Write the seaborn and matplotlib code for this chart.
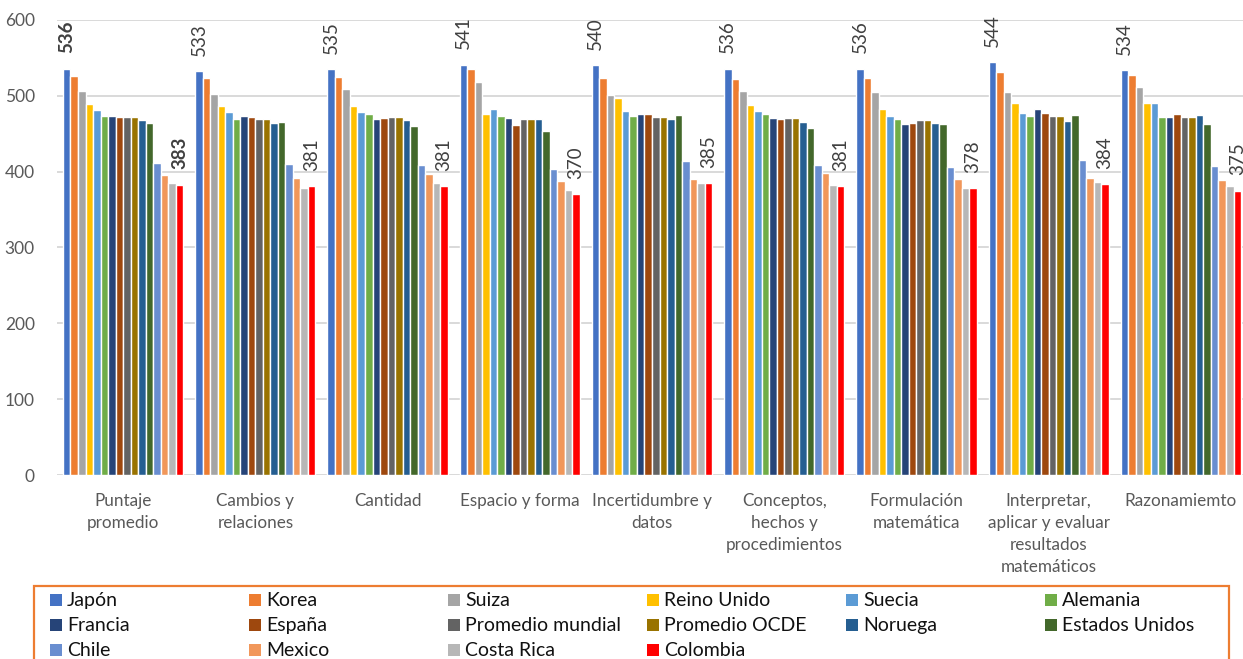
import numpy as np
import pandas as pd
import matplotlib
matplotlib.use("Agg")
import matplotlib.pyplot as plt
import seaborn as sns
from matplotlib.patches import Rectangle

# Categorías evaluadas (eje X)
categorias = [
    "Puntaje\npromedio",
    "Cambios y\nrelaciones",
    "Cantidad",
    "Espacio y forma",
    "Incertidumbre y\ndatos",
    "Conceptos,\nhechos y\nprocedimientos",
    "Formulación\nmatemática",
    "Interpretar,\naplicar y evaluar\nresultados\nmatemáticos",
    "Razonamiemto",
]

paises = [
    "Japón", "Korea", "Suiza", "Reino Unido", "Suecia", "Alemania",
    "Francia", "España", "Promedio mundial", "Promedio OCDE", "Noruega",
    "Estados Unidos", "Chile", "Mexico", "Costa Rica", "Colombia",
]

colores = [
    "#4472C4", "#ED7D31", "#A5A5A5", "#FFC000", "#5B9BD5", "#70AD47",
    "#264478", "#9E480E", "#636363", "#997300", "#255E91", "#43682B",
    "#698ED0", "#F1975A", "#B7B7B7", "#FF0000",
]

# Puntajes por país, en el orden de las categorías
japon = [536, 533, 535, 541, 540, 536, 536, 544, 534]
korea = [526, 524, 525, 535, 523, 522, 524, 531, 527]
suiza = [507, 503, 509, 518, 501, 507, 505, 505, 512]
reino_unido = [489, 487, 487, 476, 497, 488, 483, 491, 490]
suecia = [481, 479, 479, 482, 480, 480, 473, 477, 490]
alemania = [474, 469, 476, 473, 474, 476, 469, 474, 472]
francia = [473, 474, 469, 471, 476, 471, 463, 482, 472]
espana = [472, 472, 471, 462, 476, 469, 464, 477, 476]
promedio_mundial = [472, 469, 472, 470, 472, 471, 468, 473, 472]
promedio_ocde = [472, 469, 472, 470, 472, 471, 468, 473, 472]
noruega = [468, 464, 468, 469, 469, 465, 464, 467, 475]
estados_unidos = [464, 465, 460, 453, 475, 458, 463, 475, 463]
chile = [411, 410, 409, 403, 414, 409, 406, 415, 407]
mexico = [395, 391, 397, 388, 390, 398, 390, 391, 389]
costa_rica = [385, 379, 385, 376, 385, 383, 378, 386, 381]
colombia = [383, 381, 381, 370, 385, 381, 378, 384, 375]

series = [
    japon, korea, suiza, reino_unido, suecia, alemania, francia, espana,
    promedio_mundial, promedio_ocde, noruega, estados_unidos, chile,
    mexico, costa_rica, colombia,
]

df = pd.DataFrame(
    [(cat, pais, val)
     for pais, vals in zip(paises, series)
     for cat, val in zip(categorias, vals)],
    columns=["Categoría", "País", "Puntaje"],
)

sns.set_theme(style="white")
FONT = "Lato"
plt.rcParams["font.family"] = [FONT, "DejaVu Sans"]

W, H = 1243, 659
fig = plt.figure(figsize=(W / 100, H / 100), dpi=100)
ax = fig.add_axes([57 / W, 1 - 475 / H, (1247 - 57) / W, (475 - 20) / H])

sns.barplot(
    data=df, x="Categoría", y="Puntaje", hue="País",
    order=categorias, hue_order=paises, palette=colores,
    width=0.91, saturation=1, errorbar=None, legend=False,
    edgecolor="white", linewidth=1.0, ax=ax,
)

ax.set_ylim(0, 600)
ax.set_xlim(-0.5, len(categorias) - 0.5)
ax.set_yticks(np.arange(0, 601, 100))
ax.set_xlabel("")
ax.set_ylabel("")
for s in ax.spines.values():
    s.set_visible(False)
ax.yaxis.grid(True, color="#D9D9D9", linewidth=1.4)
ax.set_axisbelow(True)
ax.tick_params(axis="y", length=0, pad=16, labelsize=12.5, labelcolor="#595959")
ax.tick_params(axis="x", length=0, pad=13, labelsize=12.3, labelcolor="#595959")
for t in ax.get_xticklabels():
    t.set_linespacing(1.45)
    t.set_verticalalignment("top")

# Etiquetas de valor para Japón y Colombia
for idx in (0, len(paises) - 1):
    textos = ax.bar_label(ax.containers[idx], fmt="%d", rotation=90,
                          padding=11, fontsize=13.5, color="#404040")
    textos[0].set_fontweight("bold")

# Leyenda en seis columnas con marco naranja
fig.patches.append(Rectangle((34 / W, -0.2), (1229 - 34) / W, 0.2 + (H - 586) / H,
                             transform=fig.transFigure, fill=False,
                             edgecolor="#ED7D31", linewidth=1.6))
for i, (pais, color) in enumerate(zip(paises, colores)):
    fila, col = divmod(i, 6)
    x0 = 50 + 199 * col
    yc = 600 + 25 * fila
    fig.text((x0 + 17) / W, 1 - (yc + 6) / H, pais, fontsize=14, color="#111111",
             va="baseline", ha="left")
    fig.patches.append(Rectangle((x0 / W, 1 - (yc + 6) / H), 12 / W, 12 / H,
                                 transform=fig.transFigure, facecolor=color,
                                 edgecolor="none"))

fig.savefig("out.png", dpi=100)
